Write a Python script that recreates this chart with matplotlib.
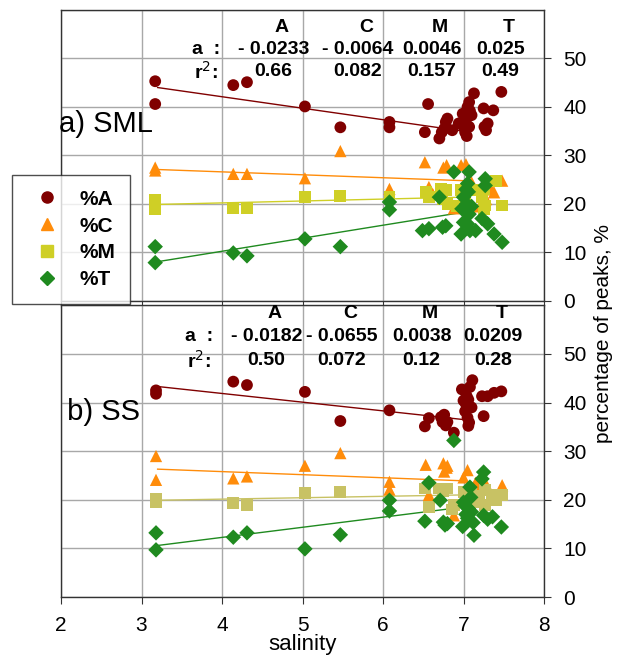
import matplotlib
matplotlib.use('Agg')
import matplotlib.pyplot as plt
from matplotlib.lines import Line2D

plt.rcParams['font.family'] = ['Liberation Sans', 'DejaVu Sans']

# ---------- data ----------
# a) SML
sml_A_x = [3.17, 3.17, 4.14, 4.31, 5.03, 5.47, 6.08, 6.08, 6.56, 6.52, 6.70, 6.73, 6.78, 6.80, 6.76, 6.86, 6.94,
           6.99, 7.05, 7.07, 7.13, 7.03, 7.07, 7.02, 7.10, 7.00, 7.08, 7.04, 7.25, 7.37, 7.26, 7.30, 7.28, 7.47]
sml_A_y = [45.3, 40.6, 44.5, 45.1, 40.1, 35.8, 36.9, 35.8, 40.6, 34.8, 33.5, 34.8, 36.9, 37.6, 35.5, 35.2, 36.6,
           38.6, 40.0, 41.0, 42.8, 37.3, 35.9, 34.8, 38.3, 36.0, 39.2, 34.0, 39.7, 39.3, 35.9, 36.6, 35.2, 43.1]
sml_C_x = [3.17, 3.17, 4.14, 4.31, 5.03, 5.47, 6.08, 6.52, 6.57, 6.75, 6.79, 6.97, 7.03, 6.88, 7.28, 7.35, 7.38,
           7.48, 6.62, 7.10, 7.05, 7.20]
sml_C_y = [27.5, 26.9, 26.2, 26.2, 25.3, 30.9, 23.1, 28.6, 23.5, 27.5, 28.0, 28.0, 28.2, 19.1, 21.0, 23.0, 22.4,
           24.8, 22.0, 24.5, 20.5, 19.5]
sml_M_x = [3.17, 3.17, 4.14, 4.31, 5.03, 5.47, 6.08, 6.53, 6.57, 6.72, 6.78, 6.80, 6.74, 6.97, 7.15, 7.23, 7.27,
           7.25, 7.40, 7.48, 7.25, 7.02, 6.92]
sml_M_y = [20.8, 19.0, 19.2, 19.2, 21.5, 21.7, 21.4, 22.4, 21.4, 23.1, 22.8, 20.0, 21.0, 22.8, 22.8, 21.4, 19.7,
           23.0, 24.8, 19.7, 19.0, 21.0, 19.5]
sml_T_x = [3.17, 3.17, 4.14, 4.31, 5.03, 5.47, 6.08, 6.08, 6.49, 6.57, 6.74, 6.78, 6.70, 6.88, 7.07, 7.05, 7.00,
           7.04, 7.02, 7.07, 7.00, 7.05, 6.97, 7.08, 7.15, 7.27, 7.27, 7.23, 7.30, 7.38, 7.48, 7.06, 7.10, 6.98, 7.03]
sml_T_y = [11.2, 7.9, 9.9, 9.3, 12.8, 11.2, 20.4, 18.8, 14.5, 14.9, 15.2, 15.5, 21.4, 26.6, 26.6, 24.2, 21.4,
           20.0, 18.6, 17.9, 16.2, 15.9, 13.8, 14.5, 14.5, 25.2, 23.8, 17.0, 15.9, 13.8, 12.1, 22.5, 19.5, 19.0, 23.0]

# b) SS
ss_A_x = [3.18, 3.18, 4.14, 4.31, 5.03, 5.47, 6.08, 6.52, 6.57, 6.72, 6.76, 6.74, 6.80, 6.78, 6.88, 6.98, 7.04,
          7.06, 7.11, 7.08, 7.03, 7.00, 7.05, 7.07, 7.06, 7.23, 7.30, 7.38, 7.47, 7.25, 7.10, 7.02]
ss_A_y = [42.5, 41.8, 44.3, 43.6, 42.2, 36.2, 38.4, 35.1, 36.8, 37.0, 37.5, 36.0, 36.0, 35.3, 33.8, 42.7, 41.3,
          40.6, 44.6, 43.2, 39.7, 40.4, 36.9, 35.9, 35.2, 41.3, 41.3, 42.0, 42.3, 37.2, 39.0, 38.2]
ss_C_x = [3.18, 3.18, 4.14, 4.31, 5.03, 5.47, 6.08, 6.08, 6.53, 6.75, 6.79, 6.76, 6.80, 7.05, 7.00, 7.15, 7.28,
          7.48, 6.57, 6.88, 7.20]
ss_C_y = [29.0, 24.1, 24.4, 24.8, 27.0, 29.6, 23.7, 22.1, 27.2, 27.5, 26.6, 25.8, 27.0, 26.1, 24.6, 23.5, 23.2,
          23.0, 21.0, 16.8, 22.5]
ss_M_x = [3.18, 3.18, 4.14, 4.31, 5.03, 5.47, 6.52, 6.57, 6.70, 6.80, 6.75, 7.00, 7.03, 7.10, 7.19, 7.27, 7.35,
          7.42, 7.48, 7.27, 6.88, 6.86, 7.12, 7.40]
ss_M_y = [20.1, 19.6, 19.4, 19.0, 21.4, 21.6, 22.3, 18.5, 22.3, 22.3, 21.8, 21.6, 20.5, 21.2, 20.8, 22.0, 21.0,
          21.0, 21.0, 18.9, 18.9, 18.0, 19.5, 20.0]
ss_T_x = [3.18, 3.18, 4.14, 4.31, 5.03, 5.47, 6.08, 6.08, 6.52, 6.57, 6.71, 6.75, 6.80, 6.77, 6.88, 7.00, 7.03,
          7.06, 7.09, 7.08, 6.99, 7.12, 7.05, 7.13, 7.25, 7.23, 7.25, 7.30, 7.36, 7.47, 7.02, 7.10]
ss_T_y = [13.2, 9.7, 12.3, 13.2, 9.9, 12.8, 19.9, 17.7, 15.6, 23.5, 19.9, 15.4, 15.1, 14.8, 32.2, 19.5, 17.0,
          18.2, 20.5, 22.6, 14.5, 15.3, 16.2, 12.7, 25.7, 24.3, 16.8, 16.0, 16.5, 14.4, 18.8, 17.5]

# trend lines: values at the two ends of trend_x
trend_x = [3.2, 7.0]
sml_trend = {'A': [44.0, 35.0], 'C': [27.1, 24.8], 'M': [19.9, 21.4], 'T': [8.1, 18.3]}
ss_trend = {'A': [43.3, 36.5], 'C': [26.3, 23.9], 'M': [19.9, 21.0], 'T': [10.6, 18.5]}

# regression table printed in each panel
groups = ['A', 'C', 'M', 'T']
sml_slope = ['- 0.0233', '- 0.0064', '0.0046', '0.025']
sml_r2 = ['0.66', '0.082', '0.157', '0.49']
ss_slope = ['- 0.0182', '- 0.0655', '0.0038', '0.0209']
ss_r2 = ['0.50', '0.072', '0.12', '0.28']

# ---------- style ----------
colors_top = {'A': '#800000', 'C': '#FF8C0A', 'M': '#CFCF26', 'T': '#1F8A1F'}
colors_bot = {'A': '#800000', 'C': '#FF8C0A', 'M': '#C8C264', 'T': '#1F8A1F'}
markers = {'A': 'o', 'C': '^', 'M': 's', 'T': 'D'}
sizes = {'A': 72, 'C': 78, 'M': 72, 'T': 62}

fig = plt.figure(figsize=(6.33, 6.57), dpi=100)
ax_top = fig.add_axes([0.0964, 0.5419, 0.763, 0.443])
ax_bot = fig.add_axes([0.0964, 0.0913, 0.763, 0.444])


def draw_panel(ax, data, trend, colors, slopes, r2s, label, label_y, col_x, rows_y):
    for g in groups:
        xs, ys = data[g]
        ax.scatter(xs, ys, marker=markers[g], s=sizes[g], c=colors[g],
                   edgecolors='none', zorder=3)
        ax.plot(trend_x, trend[g], color=colors[g], lw=1.0, zorder=2)

    ax.set_xlim(2, 8)
    ax.set_ylim(0, 60)
    ax.set_xticks(range(2, 9))
    ax.set_yticks(range(0, 51, 10))
    ax.grid(True, color='#a8a8a8', lw=1.0, zorder=0)
    ax.axhline(60, color='#a8a8a8', lw=1.0)
    ax.set_axisbelow(True)
    ax.yaxis.tick_right()
    ax.tick_params(axis='y', which='both', direction='out', length=5,
                   labelsize=15, pad=9, color='#333333')
    ax.tick_params(axis='x', direction='out', length=5, labelsize=15, pad=9,
                   color='#333333')
    for sp in ax.spines.values():
        sp.set_color('#333333')
        sp.set_linewidth(1.0)

    # regression table
    hy, ay, ry = rows_y
    kw = dict(fontsize=14, fontweight='bold', ha='center', va='center', zorder=4)
    ax.text(col_x[0] - 0.84, ay, 'a  :', **kw)
    ax.text(col_x[0] - 0.84, ry, 'r$^2$:', **kw)
    for i, g in enumerate(groups):
        ax.text(col_x[i] + 0.1, hy, g, **kw)
        ax.text(col_x[i], ay, slopes[i], **kw)
        ax.text(col_x[i], ry, r2s[i], **kw)

    ax.text(1.98, label_y, label, fontsize=21, ha='left', va='center', zorder=4)


draw_panel(ax_top,
           {'A': (sml_A_x, sml_A_y), 'C': (sml_C_x, sml_C_y),
            'M': (sml_M_x, sml_M_y), 'T': (sml_T_x, sml_T_y)},
           sml_trend, colors_top, sml_slope, sml_r2, 'a) SML', 36.5,
           [4.64, 5.69, 6.61, 7.46], (56.3, 51.8, 47.3))
draw_panel(ax_bot,
           {'A': (ss_A_x, ss_A_y), 'C': (ss_C_x, ss_C_y),
            'M': (ss_M_x, ss_M_y), 'T': (ss_T_x, ss_T_y)},
           ss_trend, colors_bot, ss_slope, ss_r2, ' b) SS', 38.0,
           [4.55, 5.49, 6.48, 7.37], (58.3, 53.5, 48.6))

ax_top.tick_params(axis='x', labelbottom=False)
ax_bot.set_xlabel('salinity', fontsize=16, labelpad=-1)

fig.text(0.953, 0.493, 'percentage of peaks, %', rotation=90,
         fontsize=15, ha='center', va='center')

# legend box sits over the left edge of the upper panel
handles = [Line2D([], [], ls='none', marker=markers[g], color=colors_top[g],
                  markersize=8 if g != 'T' else 7.5) for g in groups]
leg = fig.legend(handles, ['%' + g for g in groups],
                 loc='upper left', bbox_to_anchor=(12 / 633, 1 - 175 / 657),
                 borderaxespad=0, frameon=True, fancybox=False, borderpad=0.7,
                 labelspacing=0.38, handletextpad=0.6, handlelength=1.95,
                 prop={'size': 15, 'weight': 'bold'})
leg.get_frame().set_edgecolor('#222222')
leg.get_frame().set_linewidth(1.0)
leg.set_zorder(10)

fig.savefig('out.png', dpi=100)
